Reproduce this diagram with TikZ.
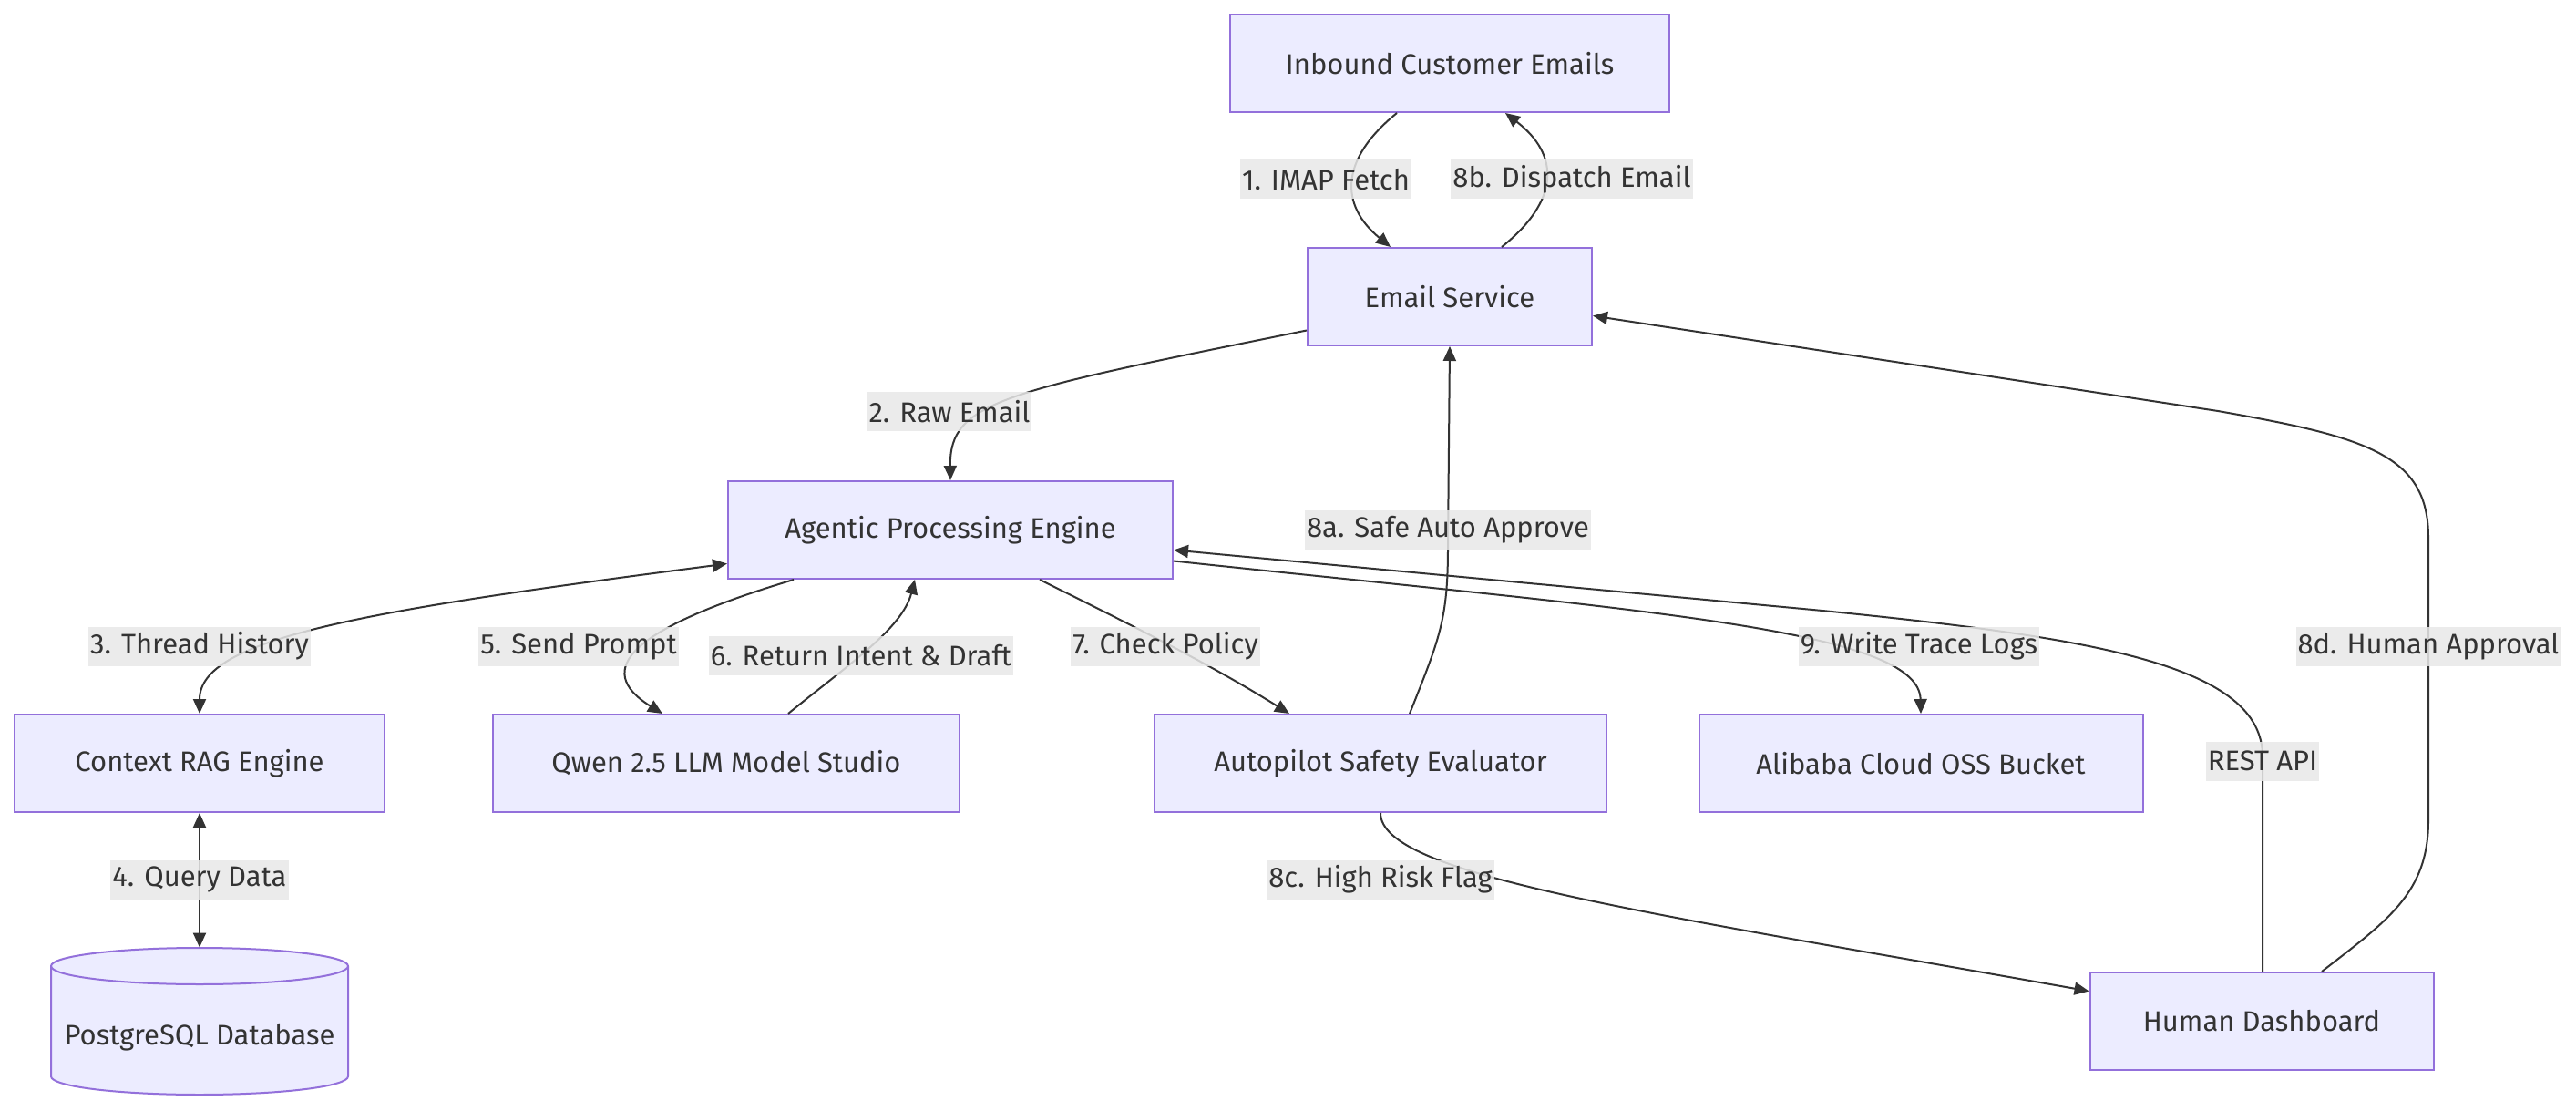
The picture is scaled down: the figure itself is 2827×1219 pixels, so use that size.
\documentclass[tikz,border=0pt]{standalone}
\usepackage{fontspec}
\setmainfont{Fira Sans}
\usetikzlibrary{arrows.meta,calc}
\definecolor{nodefill}{HTML}{ECECFF}
\definecolor{nodeline}{HTML}{9370DB}
\definecolor{ink}{HTML}{333333}
\definecolor{lblbg}{HTML}{E8E8E8}
\begin{document}
\begin{tikzpicture}[x=0.5pt,y=-0.5pt,
  box/.style={draw=nodeline,fill=nodefill,line width=1pt,minimum height=53.5pt,inner sep=0pt,text=ink,font=\fontsize{15.5}{18}\selectfont},
  tip/.style={Triangle[length=8pt,width=7pt]},
  conn/.style={draw=ink,line width=1pt,-{Triangle[length=8pt,width=7pt]}},
  twoway/.style={draw=ink,line width=1pt,{Triangle[length=8pt,width=7pt]}-{Triangle[length=8pt,width=7pt]}},
  lbl/.style={fill=lblbg,fill opacity=0.85,text opacity=1,text=ink,inner xsep=1pt,inner ysep=0pt,minimum height=21.5pt,font=\fontsize{15.5}{18}\selectfont}
]
\fill[white] (0,0) rectangle (2827,1219);
\useasboundingbox (0,0) rectangle (2827,1219);

% nodes
\node[box,minimum width=241pt] (inbound) at (1591,69.5) {Inbound Customer Emails};
\node[box,minimum width=156pt] (email) at (1591,325.5) {Email Service};
\node[box,minimum width=244pt] (agentic) at (1043,581.5) {Agentic Processing Engine};
\node[box,minimum width=203pt] (rag) at (219,837.5) {Context RAG Engine};
\node[box,minimum width=256pt] (qwen) at (797,837.5) {Qwen 2.5 LLM Model Studio};
\node[box,minimum width=248pt] (auto) at (1515,837.5) {Autopilot Safety Evaluator};
\node[box,minimum width=243.5pt] (oss) at (2108,837.5) {Alibaba Cloud OSS Bucket};
\node[box,minimum width=188.5pt] (human) at (2482,1120.5) {Human Dashboard};

% database cylinder
\draw[draw=nodeline,fill=nodefill,line width=1pt] (56,1060) -- (56,1181)
  arc[start angle=180,end angle=360,x radius=81.5pt,y radius=10pt] -- (382,1060)
  arc[start angle=0,end angle=180,x radius=81.5pt,y radius=10pt] -- cycle;
\draw[draw=nodeline,line width=1pt] (56,1060) arc[start angle=180,end angle=360,x radius=81.5pt,y radius=10pt];
\node[inner sep=0pt,minimum width=163pt,minimum height=80.5pt] (db) at (219,1120.5) {};
\node[text=ink,font=\fontsize{15.5}{18}\selectfont] (dbtext) at (219,1138) {PostgreSQL Database};

% connectors
\draw[conn] ($(inbound.south)+(-58,0)$) .. controls (1470,175) and (1470,225) .. ($(email.north)+(-65,0)$);
\draw[conn] ($(email.north)+(57,0)$) .. controls (1712,220) and (1712,170) .. ($(inbound.south)+(61,0)$);
\draw[conn] ($(email.west)+(0,37)$) .. controls (1100,430) and (1042,440) .. (agentic.north);
\draw[twoway] ($(agentic.west)+(0,37)$) .. controls (400,670) and (219,700) .. (rag.north);
\draw[twoway] (rag.south) -- (db.north);
\draw[conn] ($(agentic.south)+(-172,0)$) .. controls (690,690) and (650,735) .. ($(qwen.north)+(-70,0)$);
\draw[conn] ($(qwen.north)+(68,0)$) .. controls (930,730) and (990,690) .. ($(agentic.south)+(-39,0)$);
\draw[conn] ($(agentic.south)+(98,0)$) .. controls (1250,690) and (1330,730) .. ($(auto.north)+(-100,0)$);
\draw[conn] ($(auto.north)+(32,0)$) .. controls (1580,700) and (1589,680) .. (1589,600) -- (email.south);
\draw[conn] ($(agentic.east)+(0,34)$) .. controls (1800,670) and (2106,690) .. (oss.north);
\draw[conn] ($(human.north)+(1,0)$) -- (2483,830) .. controls (2483,730) and (2300,700) .. (2000,670) -- ($(agentic.east)+(0,22)$);
\draw[conn] (auto.south) .. controls (1515,960) and (1800,1000) .. ($(human.west)+(0,-33)$);
\draw[conn] ($(human.north)+(66,0)$) .. controls (2620,1010) and (2665,980) .. (2665,900) -- (2665,590) .. controls (2665,500) and (2600,480) .. (2434,451) -- ($(email.east)+(0,21)$);

% labels
\node[lbl] (l1) at (1455,197) {1. IMAP Fetch};
\node[lbl] (l8b) at (1725,197) {8b. Dispatch Email};
\node[lbl] (l2) at (1042,452) {2. Raw Email};
\node[lbl] (l3) at (219,709) {3. Thread History};
\node[lbl] (l4) at (219,965) {4. Query Data};
\node[lbl] (l5) at (635,709) {5. Send Prompt};
\node[lbl] (l6) at (945,719) {6. Return Intent \& Draft};
\node[lbl] (l7) at (1279,709) {7. Check Policy};
\node[lbl] (l8a) at (1589,581) {8a. Safe Auto Approve};
\node[lbl] (l9) at (2106,709) {9. Write Trace Logs};
\node[lbl] (lrest) at (2483,835) {REST API};
\node[lbl] (l8c) at (1515,965) {8c. High Risk Flag};
\node[lbl] (l8d) at (2665,709) {8d. Human Approval};
\end{tikzpicture}
\end{document}
